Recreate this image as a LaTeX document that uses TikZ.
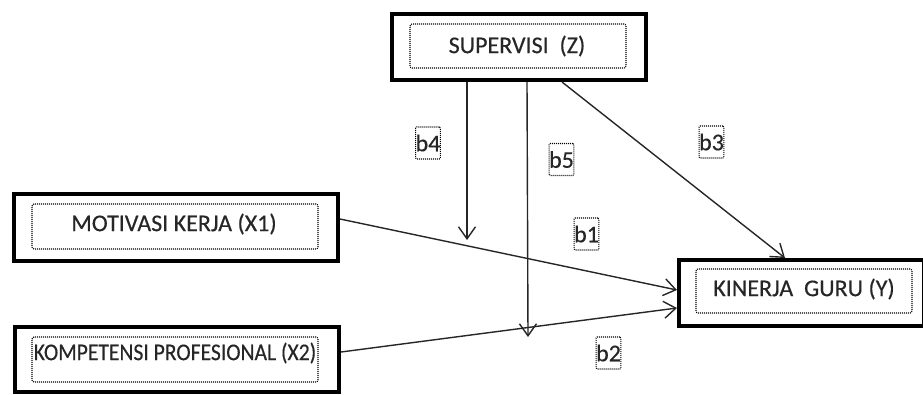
\documentclass[tikz,border=0pt]{standalone}
\usepackage{fontspec}
\setmainfont{Carlito}[FakeBold=0.4]
\usetikzlibrary{arrows.meta}
\begin{document}
\begin{tikzpicture}[x=1pt,y=-1pt,
  outerbox/.style={draw=black,line width=4pt,inner sep=0pt,fill=none},
  innerbox/.style={draw=black,line width=1.1pt,dash pattern=on 1pt off 1pt,rounded corners=2pt,inner sep=0pt},
  lbl/.style={font=\fontsize{24}{26}\selectfont,text=black!85,inner sep=0pt},
  blab/.style={draw=black,line width=1.1pt,dash pattern=on 1pt off 1pt,rounded corners=1pt,inner sep=0pt,minimum width=24pt,minimum height=32pt,font=\fontsize{24}{26}\selectfont,text=black!85},
  arr/.style={-{Straight Barb[length=12pt,width=17pt,line width=1.4pt]},line width=1.4pt,draw=black!85}]
\useasboundingbox (0,0) rectangle (923,394);
% outer boxes
\node[outerbox,minimum width=254pt,minimum height=66pt] (Z) at (519,47) {};
\node[outerbox,minimum width=324pt,minimum height=67pt] (X1) at (176,227.5) {};
\node[outerbox,minimum width=324pt,minimum height=65pt] (X2) at (177,359.5) {};
\node[outerbox,minimum width=245pt,minimum height=66pt] (Y) at (801.5,293) {};
% inner dotted boxes
\node[innerbox,minimum width=216pt,minimum height=44pt] (Zi) at (518,46) {};
\node[innerbox,minimum width=286pt,minimum height=45pt] (X1i) at (175,226.5) {};
\node[innerbox,minimum width=286pt,minimum height=45pt] (X2i) at (175,359.5) {};
\node[innerbox,minimum width=216pt,minimum height=44pt] (Yi) at (804,291) {};
% texts
\node[lbl] (Zt) at (517,46) {SUPERVISI\ \ (Z)};
\node[lbl] (X1t) at (174,224) {MOTIVASI KERJA (X1)};
\node[lbl] (X2t) at (175,353) {\scalebox{0.9}[1]{KOMPETENSI PROFESIONAL (X2)}};
\node[lbl] (Yt) at (804,289) {KINERJA\ \ GURU (Y)};
% path labels
\node[blab] (b4) at (428,143) {b4};
\node[blab] (b5) at (561.5,159.5) {b5};
\node[blab] (b3) at (711.5,142) {b3};
\node[blab] (b1) at (586.5,234) {b1};
\node[blab] (b2) at (608.5,353) {b2};
% free ends of moderator arrows
\coordinate (m4) at (467,240);
\coordinate (m5) at (528,337);
% connectors
\draw[arr] ([xshift=-52pt]Z.south) -- (m4);
\draw[arr] ([xshift=8pt]Z.south) -- (m5);
\draw[arr] ([xshift=43pt]Z.south) -- ([xshift=-16.5pt]Y.north);
\draw[arr] ([yshift=8.5pt]X1.east) -- ([yshift=3pt]Y.west);
\draw[arr] ([yshift=7.5pt]X2.east) -- ([yshift=-15pt]Y.west);
\end{tikzpicture}
\end{document}
